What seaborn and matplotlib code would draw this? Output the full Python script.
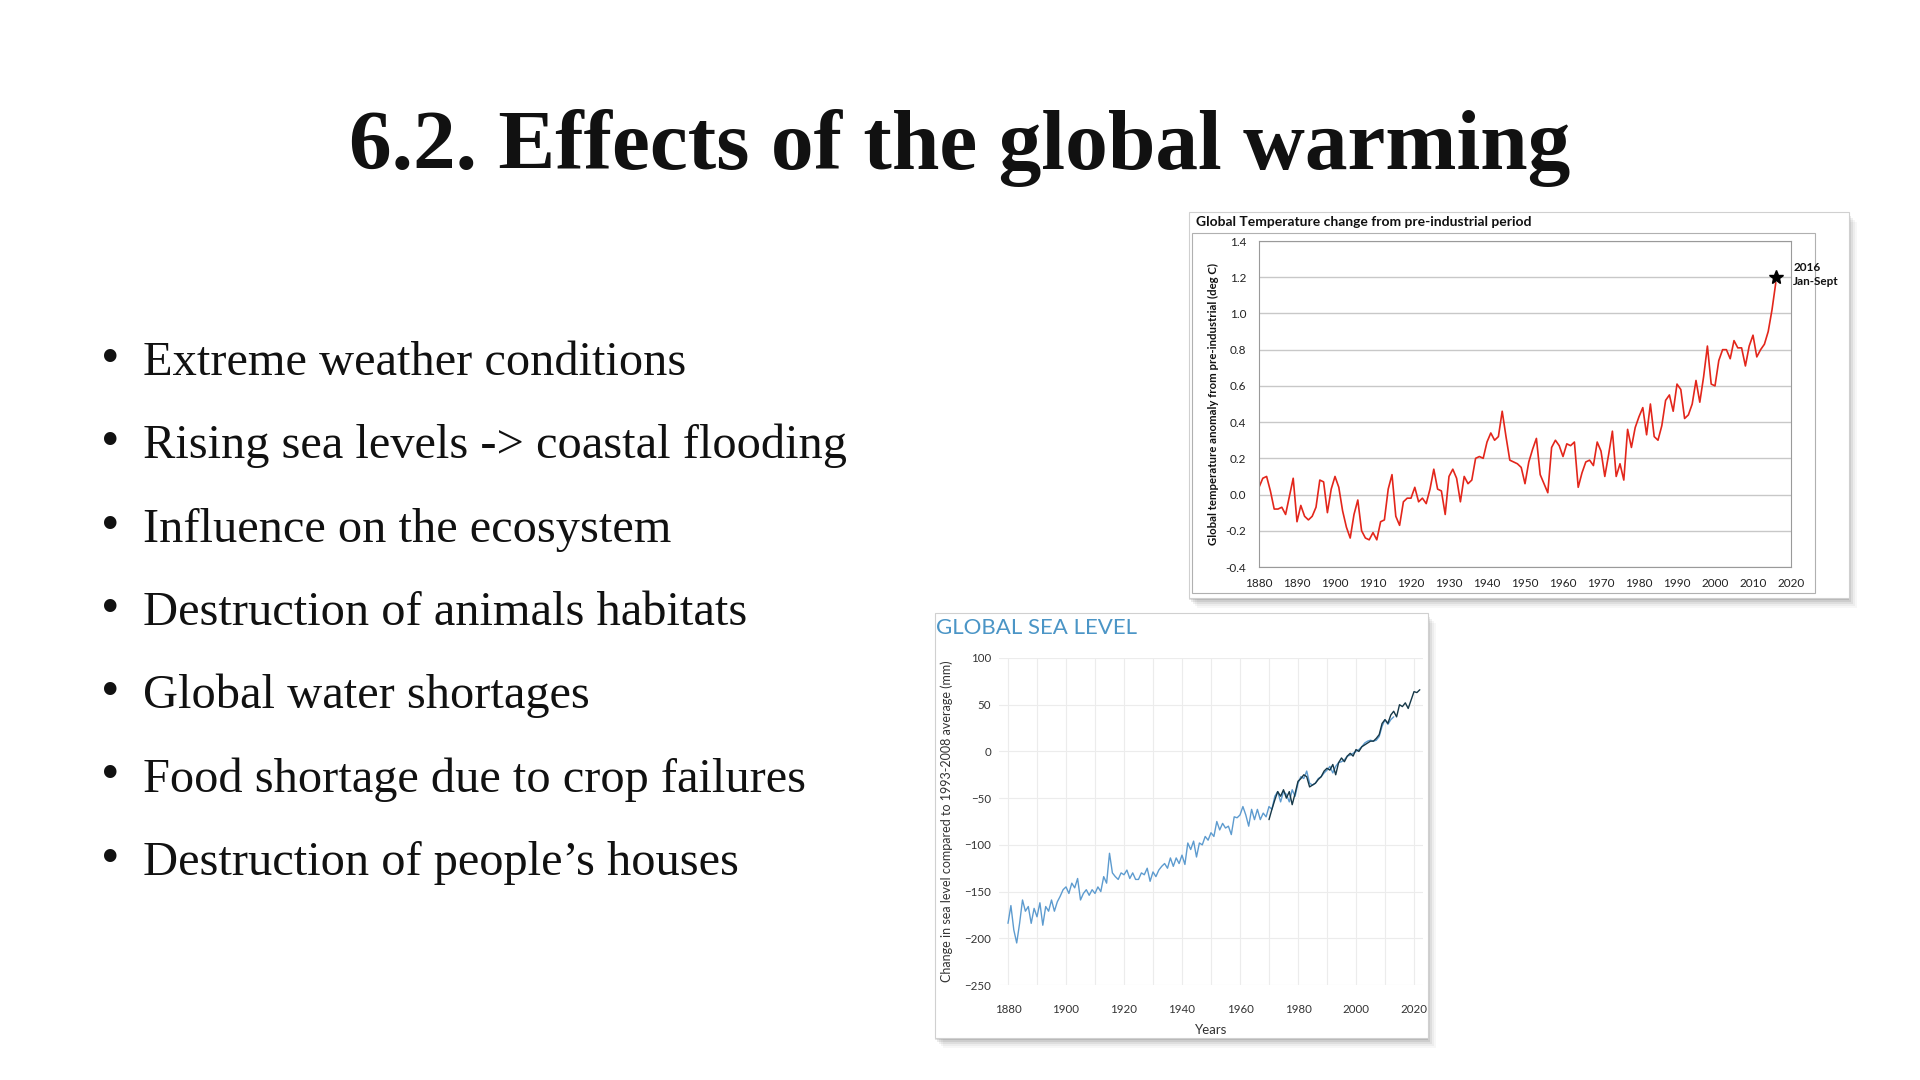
"""
Slide: 6.2. Effects of the global warming
Bullet list on the left, two small charts (temperature anomaly, sea level) on the right.
"""

import matplotlib
matplotlib.use("Agg")
import matplotlib.pyplot as plt
from matplotlib.patches import Rectangle
import seaborn as sns

# ---- slide text ----
slide_title = "6.2. Effects of the global warming"
bullets = [
    "Extreme weather conditions",
    "Rising sea levels -> coastal flooding",
    "Influence on the ecosystem",
    "Destruction of animals habitats",
    "Global water shortages",
    "Food shortage due to crop failures",
    "Destruction of people\u2019s houses",
]

# ---- global temperature anomaly (deg C), 1880..2016 ----
temp_start_year = 1880
temp_anomaly = [
    0.04, 0.09, 0.10, 0.02, -0.08, -0.08, -0.07, -0.11, -0.01, 0.09,
    -0.15, -0.06, -0.12, -0.14, -0.12, -0.07, 0.08, 0.07, -0.10, 0.03,
    0.10, 0.04, -0.09, -0.18, -0.24, -0.11, -0.03, -0.20, -0.24, -0.25,
    -0.21, -0.25, -0.15, -0.14, 0.03, 0.11, -0.12, -0.17, -0.04, -0.02,
    -0.02, 0.04, -0.04, -0.02, -0.05, 0.03, 0.14, 0.03, 0.02, -0.11,
    0.10, 0.14, 0.09, -0.04, 0.10, 0.06, 0.08, 0.20, 0.21, 0.20,
    0.29, 0.34, 0.30, 0.32, 0.46, 0.32, 0.19, 0.18, 0.17, 0.15,
    0.06, 0.18, 0.25, 0.31, 0.11, 0.06, 0.01, 0.26, 0.30, 0.27,
    0.21, 0.28, 0.27, 0.29, 0.04, 0.12, 0.18, 0.19, 0.16, 0.29,
    0.24, 0.10, 0.22, 0.35, 0.10, 0.17, 0.08, 0.36, 0.26, 0.37,
    0.43, 0.48, 0.33, 0.50, 0.32, 0.30, 0.38, 0.52, 0.55, 0.46,
    0.61, 0.58, 0.42, 0.44, 0.50, 0.63, 0.51, 0.65, 0.82, 0.61,
    0.60, 0.74, 0.80, 0.80, 0.75, 0.85, 0.81, 0.81, 0.71, 0.82,
    0.88, 0.76, 0.80, 0.83, 0.90, 1.02, 1.17,
]
temp_years = list(range(temp_start_year, temp_start_year + len(temp_anomaly)))
temp_marker_year = 2016
temp_marker_value = 1.2
temp_marker_label = "2016\nJan-Sept"
temp_xticks = list(range(1880, 2021, 10))
temp_yticks = [-0.4, -0.2, 0.0, 0.2, 0.4, 0.6, 0.8, 1.0, 1.2, 1.4]

# ---- global sea level (mm vs 1993-2008 average) ----
# long reconstruction 1880..2013
sea_long_start = 1880
sea_long = [
    -184, -165, -191, -205, -184, -159, -171, -166, -184, -168,
    -177, -162, -186, -166, -171, -159, -171, -161, -155, -148,
    -145, -152, -141, -146, -136, -159, -152, -148, -154, -148,
    -152, -145, -150, -134, -141, -109, -130, -134, -137, -130,
    -132, -127, -136, -130, -137, -137, -130, -132, -125, -139,
    -129, -134, -127, -123, -120, -125, -114, -123, -114, -120,
    -111, -121, -98, -105, -96, -113, -98, -100, -91, -95,
    -87, -91, -75, -84, -77, -82, -80, -89, -70, -71,
    -68, -59, -68, -80, -62, -73, -62, -73, -66, -70,
    -59, -62, -48, -43, -54, -43, -46, -54, -41, -48,
    -34, -27, -29, -21, -34, -36, -34, -29, -27, -23,
    -20, -16, -23, -16, -12, -11, -9, -5, -4, -2,
    0, 2, 5, 9, 11, 12, 11, 12, 16, 27,
    34, 29, 34, 37,
]
sea_long_years = list(range(sea_long_start, sea_long_start + len(sea_long)))
# recent series 1970..2022
sea_recent_start = 1970
sea_recent = [
    -73, -62, -52, -43, -48, -41, -50, -43, -57, -45,
    -32, -29, -25, -27, -38, -36, -34, -30, -27, -21,
    -18, -20, -14, -25, -12, -7, -11, -5, -2, -5,
    2, 0, 5, 7, 9, 11, 11, 14, 18, 30,
    34, 30, 39, 43, 37, 50, 48, 52, 46, 55,
    64, 63, 66,
]
sea_recent_years = list(range(sea_recent_start, sea_recent_start + len(sea_recent)))
sea_xticks = list(range(1880, 2021, 20))
sea_xgrid = list(range(1880, 2021, 10))
sea_yticks = list(range(-250, 101, 50))

W, H = 1920, 1080


def fx(px):
    return px / W


def fy(py):
    return 1 - py / H


def panel(fig, x0, y0, x1, y1):
    # soft shadow on the right/bottom, then the white card
    for i, a in enumerate([0.10, 0.08, 0.06, 0.04, 0.03]):
        off = 2 * (i + 1)
        fig.add_artist(Rectangle((fx(x0 + off - 2), fy(y1 + off)),
                                 fx(x1 - x0), (y1 - y0) / H,
                                 facecolor="black", edgecolor="none",
                                 alpha=a, zorder=1))
    fig.add_artist(Rectangle((fx(x0), fy(y1)), fx(x1 - x0), (y1 - y0) / H,
                             facecolor="white", edgecolor="#d0d0d0",
                             linewidth=0.8, zorder=1))


def fit_width(fig, txt, target_px):
    fig.canvas.draw()
    w = txt.get_window_extent(fig.canvas.get_renderer()).width
    txt.set_fontsize(txt.get_fontsize() * target_px / w)


sns.set_theme(style="white")
plt.rcParams["font.family"] = ["Lato", "DejaVu Sans"]

fig = plt.figure(figsize=(19.2, 10.8), dpi=100)
fig.patch.set_facecolor("white")

# ---- title ----
title = fig.text(0.5, fy(169), slide_title, ha="center", va="baseline",
                 fontfamily="Liberation Serif", fontweight="bold",
                 fontsize=60, color="#111111")
fit_width(fig, title, 1222)

# ---- bullets ----
bullet_texts = []
for i, line in enumerate(bullets):
    base = 375 + i * 83.3
    fig.text(fx(110), fy(base - 2), "\u2022", ha="center", va="baseline",
             fontfamily="Liberation Serif", fontsize=38, color="#111111")
    t = fig.text(fx(143), fy(base), line, ha="left", va="baseline",
                 fontfamily="Liberation Serif", fontsize=30, color="#111111")
    bullet_texts.append(t)
fit_width(fig, bullet_texts[1], 704)
for t in bullet_texts:
    t.set_fontsize(bullet_texts[1].get_fontsize())

# ---- temperature chart ----
panel(fig, 1189, 212, 1849, 598)
fig.add_artist(Rectangle((fx(1192), fy(593)), fx(1815 - 1192), (593 - 233) / H,
                         facecolor="none", edgecolor="#b0b0b0", linewidth=0.8,
                         zorder=1.5))
fig.text(fx(1196), fy(222), "Global Temperature change from pre-industrial period",
         ha="left", va="center", fontsize=10, fontweight="bold", color="#111111",
         zorder=3)

ax1 = fig.add_axes([fx(1259), fy(567), fx(1791 - 1259), (567 - 241) / H])
ax1.set_zorder(2)
ax1.set_facecolor("white")
sns.lineplot(x=temp_years, y=temp_anomaly, ax=ax1, color="#e3261b",
             linewidth=1.2)
ax1.plot([temp_marker_year], [temp_marker_value], marker="*", color="black",
         markersize=10, linestyle="none", clip_on=False)
ax1.text(2020.6, 1.215, temp_marker_label, ha="left", va="center",
         fontsize=8.5, fontweight="bold", color="#111111", linespacing=1.25)
ax1.set_xlim(1880, 2020)
ax1.set_ylim(-0.4, 1.4)
ax1.set_xticks(temp_xticks)
ax1.set_xticks(list(range(1885, 2020, 10)), minor=True)
ax1.set_yticks(temp_yticks)
ax1.set_yticklabels([f"{v:.1f}" for v in temp_yticks])
ax1.yaxis.grid(True, color="#c8c8c8", linewidth=1.0)
ax1.xaxis.grid(False)
for side in ["left", "bottom", "top", "right"]:
    ax1.spines[side].set_visible(True)
    ax1.spines[side].set_color("#9a9a9a")
    ax1.spines[side].set_linewidth(0.8)
ax1.tick_params(axis="both", which="both", direction="out", length=3,
                width=0.8, color="#9a9a9a", labelsize=8.5, labelcolor="#222222",
                pad=5)
ax1.tick_params(axis="y", pad=6)
ax1.set_xlabel("")
ax1.set_ylabel("Global temperature anomaly from pre-industrial (deg C)",
               fontsize=8.2, fontweight="bold", color="#111111", labelpad=5)

# ---- sea level chart ----
panel(fig, 935, 613, 1428, 1038)
fig.text(fx(936), fy(628), "GLOBAL SEA LEVEL", ha="left", va="center",
         fontsize=16, color="#4b95c6", zorder=3)

ax2 = fig.add_axes([fx(999.3), fy(985), fx(1422.7 - 999.3), (985 - 658) / H])
ax2.set_zorder(2)
ax2.set_facecolor("white")
sns.lineplot(x=sea_long_years, y=sea_long, ax=ax2, color="#5d9bcf",
             linewidth=1.0)
sns.lineplot(x=sea_recent_years, y=sea_recent, ax=ax2, color="#163848",
             linewidth=1.0)
ax2.set_xlim(1877, 2023)
ax2.set_ylim(-250, 100)
ax2.set_xticks(sea_xgrid)
ax2.set_xticklabels([str(y) if y in sea_xticks else "" for y in sea_xgrid])
ax2.set_yticks(sea_yticks)
ax2.grid(True, color="#ececec", linewidth=0.8)
for s in ax2.spines.values():
    s.set_visible(False)
ax2.tick_params(axis="both", length=0, labelsize=8.3, labelcolor="#333333")
ax2.tick_params(axis="x", pad=14)
ax2.tick_params(axis="y", pad=6)
ax2.set_xlabel("Years", fontsize=9.5, color="#333333", labelpad=6)
ax2.set_ylabel("Change in sea level compared to 1993-2008 average (mm)",
               fontsize=9, color="#333333", labelpad=8)

fig.savefig("out.png", dpi=100, facecolor="white")
